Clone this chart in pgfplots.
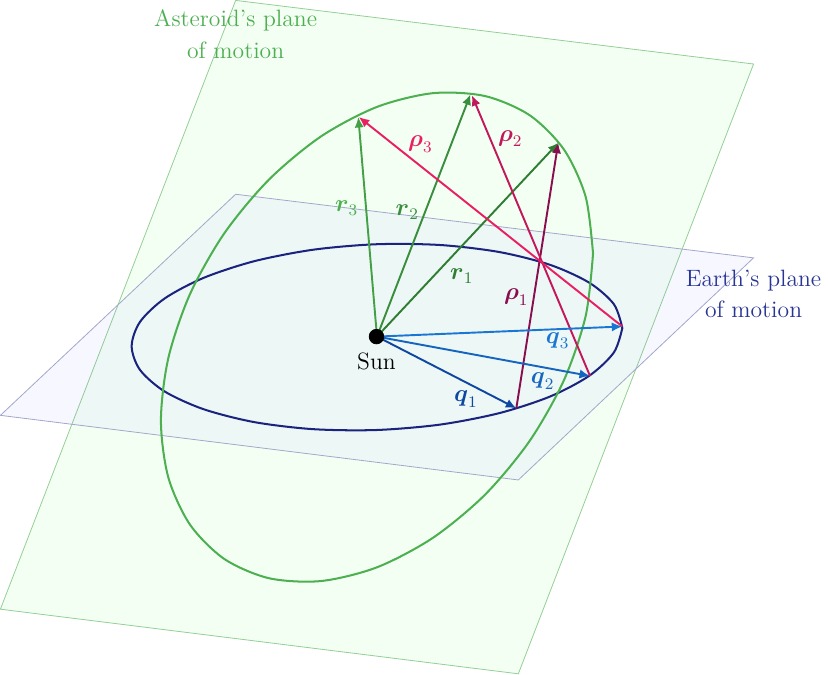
\documentclass[border=0pt]{standalone}
\usepackage{amsmath}
\usepackage{pgfplots}
\pgfplotsset{compat=1.18}
\usetikzlibrary{arrows.meta}
\definecolor{ell}{HTML}{4CAF50}
\definecolor{earth}{HTML}{1A237E}
\definecolor{earthlab}{HTML}{283593}
\definecolor{rA}{HTML}{2E7D32}
\definecolor{rB}{HTML}{388E3C}
\definecolor{rC}{HTML}{43A047}
\definecolor{qA}{HTML}{0D47A1}
\definecolor{qB}{HTML}{1565C0}
\definecolor{qC}{HTML}{1976D2}
\definecolor{pA}{HTML}{880E4F}
\definecolor{pB}{HTML}{C2185B}
\definecolor{pC}{HTML}{E91E63}
\tikzset{arr/.style={line width=0.95pt,-{Latex[length=5.2pt,width=4.6pt]},shorten >=0pt}}
\newcommand{\lab}[1]{\fontsize{11.7}{14}\selectfont #1}
\begin{document}
\begin{tikzpicture}
\begin{axis}[
  scale only axis, width=414pt, height=337.5pt,
  xmin=0, xmax=828, ymin=0, ymax=675, y dir=reverse,
  hide axis, clip=false,
  every axis plot/.append style={mark=none},
]
% planes
\addplot[draw=ell!60, line width=0.4pt, fill=green!60!white, fill opacity=0.07] coordinates {(241,5) (754,68) (521,672) (8,608)} -- cycle;
\addplot[draw=earth!40, line width=0.4pt, fill=blue!60!white, fill opacity=0.05] coordinates {(241,197) (754,260) (521,480) (8,416)} -- cycle;
% orbit of Earth
\addplot[earth, line width=1pt, smooth] coordinates {
(624,329.5) (615.7,353.6) (591.4,376.7) (552.8,397.2) (502.5,413.7) (443.9,425.1)
(381,430.5) (318.1,429.7) (259.5,422.7) (209.2,409.9) (170.6,392.3) (146.3,371)
(138,347.5) (146.3,323.4) (170.6,300.3) (209.2,279.85) (259.5,263.3) (318.1,251.9)
(381,246.5) (443.9,247.3) (502.5,254.3) (552.8,267.05) (591.4,284.7) (615.7,306) (624,329.5)};
% orbit of the asteroid
\addplot[ell, line width=1pt, smooth] coordinates {
(595,255.8) (587.7,317.6) (566.3,380.9) (532.3,441.2) (488,494.6) (436.4,537.3)
(381,566.5) (325.6,580.1) (274,577.3) (229.7,558.2) (195.7,524.1) (174.3,477.4)
(167,421.2) (174.3,359.4) (195.7,296.1) (229.7,235.8) (274,182.5) (325.6,139.7)
(381,110.5) (436.4,96.9) (488,99.75) (532.3,118.8) (566.3,152.9) (587.7,199.6) (595,255.8)};
% Sun
\addplot[only marks, mark=*, mark size=3.6pt, black, mark options={fill=black}] coordinates {(380.5,338)};
% r
\addplot[rA, arr] coordinates {(381,338) (560.7,146)};
\addplot[rB, arr] coordinates {(381,338) (473.6,98)};
\addplot[rC, arr] coordinates {(381,338) (362.5,120.5)};
% rho
\addplot[pA, arr] coordinates {(519,409) (560.5,146)};
\addplot[pB, arr] coordinates {(592,377) (475,99)};
\addplot[pC, arr] coordinates {(624,328) (363,120.5)};
% q
\addplot[qA, arr] coordinates {(381,338) (519,409)};
\addplot[qB, arr] coordinates {(381,338) (592,377)};
\addplot[qC, arr] coordinates {(381,338) (624,328)};
% labels
\node[ell, align=center, font=\lab] at (axis cs:241,38.5) {Asteroid's plane\\[1.5pt]of motion};
\node[earthlab, align=center, font=\lab] at (axis cs:754,295.5) {Earth's plane\\[1.5pt]of motion};
\node[black, font=\lab] at (axis cs:380.5,363) {Sun};
\node[rA, font=\lab] at (axis cs:465,278) {$\boldsymbol{r}_1$};
\node[rB, font=\lab] at (axis cs:411,215) {$\boldsymbol{r}_2$};
\node[ell, font=\lab] at (axis cs:351,211) {$\boldsymbol{r}_3$};
\node[pA, font=\lab] at (axis cs:519,299) {$\boldsymbol{\rho}_1$};
\node[pB, font=\lab] at (axis cs:513,142) {$\boldsymbol{\rho}_2$};
\node[pC, font=\lab] at (axis cs:424,147) {$\boldsymbol{\rho}_3$};
\node[qA, font=\lab] at (axis cs:469,400) {$\boldsymbol{q}_1$};
\node[qB, font=\lab] at (axis cs:545,382) {$\boldsymbol{q}_2$};
\node[qC, font=\lab] at (axis cs:560,342) {$\boldsymbol{q}_3$};
\end{axis}
\end{tikzpicture}
\end{document}
